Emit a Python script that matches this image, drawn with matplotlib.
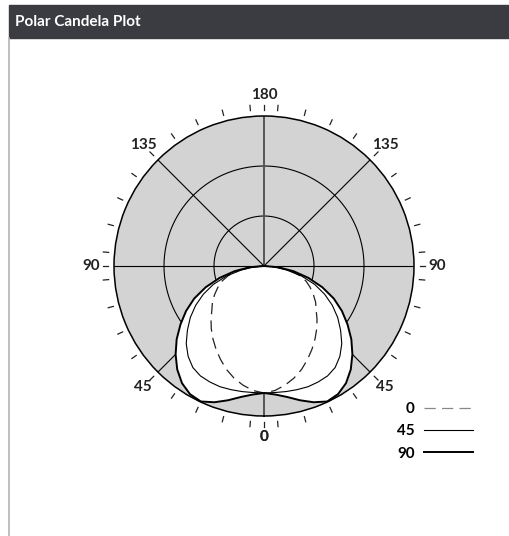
import numpy as np
import matplotlib
matplotlib.use("Agg")
import matplotlib.pyplot as plt
from matplotlib.patches import Rectangle
from matplotlib.lines import Line2D

plt.rcParams['font.family'] = ['Lato', 'DejaVu Sans']

# vertical angles (deg) and candela values for each C-plane
angles = [0, 5, 10, 15, 20, 25, 30, 35, 40, 45, 50, 55, 60, 65, 70, 75, 80, 85, 90]
plane_0 = [254, 250, 242, 232, 220, 206, 192, 178, 164, 150, 136, 126, 114, 102, 90, 74, 54, 28, 0]
plane_45 = [254, 254, 255, 256, 257, 256, 254, 248, 236, 220, 200, 180, 158, 134, 108, 78, 46, 20, 0]
plane_90 = [254, 258, 266, 278, 290, 299, 296, 286, 270, 250, 228, 204, 180, 154, 124, 92, 60, 28, 0]
plane_labels = ["0", "45", "90"]
angle_labels = ["0", "45", "90", "135", "180"]

RMAX = 300
W, H = 509, 536

fig = plt.figure(figsize=(W / 100, H / 100), dpi=100)

# header bar + left border of the card
fig.patches.append(Rectangle((9 / W, 1 - 38 / H), 1, 33 / H, transform=fig.transFigure,
                             color="#3b3c41", zorder=0))
fig.lines.append(Line2D([9 / W, 9 / W], [0, 1 - 38 / H], transform=fig.transFigure,
                        color="#b4b4b4", lw=1.2))
fig.text(15 / W, 1 - 22 / H, "Polar Candela Plot", color="white", fontsize=11,
         fontweight="bold", va="center", ha="left")

cx, cy, rpx = 264, 266, 150
ax = fig.add_axes([(cx - rpx) / W, (H - cy - rpx) / H, 2 * rpx / W, 2 * rpx / H],
                  projection="polar")
ax.set_theta_zero_location("S")
ax.set_ylim(0, RMAX)
ax.set_facecolor("#d3d3d3")
ax.grid(False)
ax.set_xticks([])
ax.set_yticks([])
ax.spines["polar"].set_linewidth(1.1)


def mirror(vals):
    """Return both halves (left and right) of a symmetric distribution"""
    a = np.array(angles, dtype=float)
    v = np.array(vals, dtype=float)
    th = np.concatenate([-a[::-1], a[1:]])
    r = np.concatenate([v[::-1], v[1:]])
    return np.deg2rad(th), r


# grid: rings and spokes
ring = np.linspace(0, 2 * np.pi, 361)
for frac in (1 / 3, 2 / 3):
    ax.plot(ring, np.full_like(ring, RMAX * frac), color="black", lw=0.8, zorder=1)
for a in range(0, 360, 45):
    t = np.deg2rad(a)
    if a in (0, 180):
        ax.plot([t, t], [0, RMAX], color="#555555", lw=1.4, zorder=1)
    else:
        ax.plot([t, t], [0, RMAX], color="black", lw=0.8, zorder=1)

# white fill under the outer envelope of all planes
th, r0 = mirror(plane_0)
_, r45 = mirror(plane_45)
_, r90 = mirror(plane_90)
env = np.maximum(np.maximum(r0, r45), r90)
ax.fill(th, env, color="white", zorder=2, lw=0)

l0, = ax.plot(th, r0, color="#222222", lw=0.9, ls=(0, (9, 5)), zorder=3)
l45, = ax.plot(th, r45, color="black", lw=0.8, zorder=3)
l90, = ax.plot(th, r90, color="black", lw=1.4, zorder=3)

# outside tick marks
tick_angles = list(range(5, 360, 10)) + [0, 90, 180, 270]
for a in tick_angles:
    t = np.deg2rad(a)
    ax.plot([t, t], [RMAX * 1.04, RMAX * 1.075], color="#222222", lw=0.9,
            clip_on=False, zorder=4)

# angle labels, same value on both sides
for lab in angle_labels:
    a = int(lab)
    rr = RMAX * (1.155 if a == 90 else 1.14)
    for side in {a, 360 - a}:
        ax.text(np.deg2rad(side), rr, lab, ha="center", va="center",
                fontsize=11, fontweight="bold", color="#222222")

leg = fig.legend([l0, l45, l90], plane_labels, markerfirst=False, frameon=False,
                 loc="upper right", bbox_to_anchor=(473 / W, 1 - 402 / H),
                 borderpad=0, borderaxespad=0, handlelength=3.2, handletextpad=0.6,
                 labelspacing=0.55, prop={"weight": "bold", "size": 11})
leg.get_lines()[0].set_color("#888888")

fig.savefig("out.png", dpi=100)
